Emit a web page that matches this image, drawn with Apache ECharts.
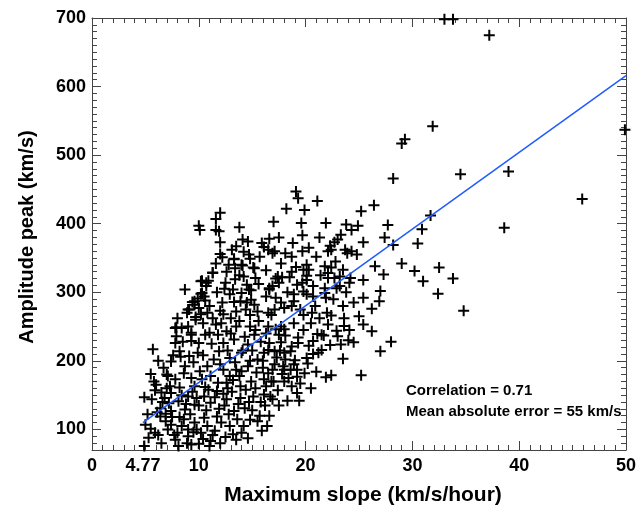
<!DOCTYPE html>
<html>
<head>
<meta charset="utf-8">
<script src="https://cdn.jsdelivr.net/npm/echarts@6/dist/echarts.min.js"></script>
<style>html,body{margin:0;padding:0;background:#fff}#c{width:639px;height:507px}</style>
</head>
<body>
<div id="c"></div>
<script>
// ---- data ----
const xTickLabels = [0, 4.77, 10, 20, 30, 40, 50];
const yTickLabels = [100, 200, 300, 400, 500, 600, 700];
const fitX = [4.77, 50];
const fitY = [110, 616];
const annotations = ['Correlation = 0.71', 'Mean absolute error = 55 km/s'];

const sparsePoints = [
[37.2,675],[31.9,542],[29.3,523],[29.0,517],[28.2,466],[34.5,472],[39.0,476],[49.9,537],[45.9,436],
[19.1,447],[19.3,437],[21.1,433],[18.2,422],[19.9,420],[26.4,427],[25.2,418],[12.0,416],[27.7,398],
[31.7,412],[30.9,392],[38.6,394],[27.4,380],[28.2,369],[30.5,371],[26.5,338],[29.0,342],[27.3,326],
[30.2,331],[32.5,336],[31.0,316],[33.8,320],[27.0,302],[32.4,298],[26.9,287],[34.8,273],[28.0,228],
[27.0,214],[33.0,698],[33.8,698]
];
const midRightPoints = [
[25.4,253],[26.2,243],[23.6,251],[24.1,245],[22.9,244],[23.0,236],[24.0,230],[24.5,227],[23.3,224],
[22.3,223],[23.5,203],[25.2,179],[22.4,179],[21.9,176],[21.0,184],[22.1,253],[21.5,238],[21.7,237],
[21.1,239],[20.7,229],[20.3,222],[21.5,216],[21.2,212],[20.7,210],[20.1,204],[20.2,196],[19.3,234],
[19.3,226],[18.7,221],[18.6,214],[18.1,237],[18.0,246],[17.7,227],[18.0,212],[18.1,202],[19.0,201],
[19.2,187],[18.6,187],[18.0,187],[17.8,181],[19.2,177],[19.5,167],[18.7,163],[18.0,170],[17.4,157],
[19.2,153],[16.9,144],[16.7,148],[16.1,151],[17.1,195],[16.9,187],[16.5,182],[16.1,173],[16.8,170],
[16.3,163],[16.0,190],[16.1,212],[16.5,216],[17.1,214],[16.6,226],[17.5,238],[17.2,246],[16.5,250],
[17.7,250],[18.9,195]
];
const upperMidPoints = [
[17.0,403],[19.6,401],[21.9,401],[23.8,399],[24.9,397],[24.3,391],[19.7,383],[23.3,384],[23.0,377],
[22.7,373],[25.4,373],[22.3,368],[22.4,362],[22.1,360],[16.6,378],[16.1,366],[17.1,360],[16.5,362],
[18.1,357],[18.7,352],[19.7,360],[21.0,352],[23.7,362],[23.9,357],[24.8,355],[24.3,360],[19.1,337],
[20.1,340],[20.3,333],[19.8,333],[21.8,338],[22.4,336],[22.8,345],[23.5,333],[22.1,328],[20.1,324],
[17.8,322],[18.5,322],[17.2,320],[22.1,321],[22.7,321],[23.2,323],[24.2,321],[24.1,314],[25.4,318],
[25.4,292],[23.2,309],[22.9,306],[21.8,306],[20.7,309],[19.7,314],[19.2,311],[17.5,314],[16.9,309],
[16.6,304],[16.3,294],[17.2,292],[18.3,300],[18.9,297],[19.8,301],[20.1,297],[20.7,294],[21.8,299],
[21.9,292],[18.9,287],[18.7,280],[18.0,277],[17.1,275],[16.5,270],[19.8,267],[20.6,270],[23.5,280],
[22.4,266],[26.2,276]
];
const upperLeftPoints = [
[11.6,407],[10.0,397],[10.1,391],[11.6,391],[11.9,389],[13.8,395],[14.1,377],[14.6,374],[12.0,373],
[13.5,367],[13.1,362],[14.2,359],[12.0,356],[12.2,351],[13.3,349],[14.8,349],[15.7,352],[13.4,335],
[14.1,339],[15.2,335],[11.3,328],[10.3,317],[10.9,317],[10.7,309],[12.5,314],[13.4,319],[14.2,323],
[14.5,311],[15.3,321],[13.2,304],[14.0,299],[14.7,304],[8.7,304],[10.2,298],[10.5,294],[9.9,291],
[9.4,286],[10.6,288],[9.1,275],[9.6,282],[10.0,277],[12.9,297],[13.3,286],[13.9,287],[14.9,289],
[15.2,282],[15.5,272],[14.5,285],[13.5,272],[12.0,273],[12.3,268],[10.8,270],[10.2,268],[9.7,264],
[14.8,267],[7.8,248],[7.9,236],[9.3,238],[9.0,275],[9.7,260],[9.6,287],[10.3,299],[10.7,314],
[11.3,329],[10.2,316],[13.3,348],[14.0,340],[15.1,336],[16.9,357],[17.4,323],[16.6,306],[17.7,285],
[16.8,267]
];
const lowerLeftPoints = [
[5.7,217],[5.5,181],[4.9,147],[5.6,144],[5.9,157],[6.5,154],[5.2,122],[5.0,107],[6.4,119],[7.0,180],
[7.8,226],[7.4,199],[8.2,214],[8.4,248],[7.9,249],[9.0,250],[9.3,241],[10.0,226],[9.1,207],[9.9,212],
[8.7,192],[7.1,178],[7.8,173],[8.2,161],[7.4,153],[6.8,146],[8.1,141],[9.0,148],[9.6,163],[10.3,173],
[11.1,178],[10.8,192],[11.4,202],[11.9,214],[11.0,241],[11.6,253],[12.6,243],[13.3,231],[12.3,226],
[13.5,250],[14.8,250],[15.2,238],[14.6,224],[14.0,212],[12.9,204],[12.3,187],[13.5,187],[14.6,192],
[15.5,202],[12.6,168],[13.9,163],[14.9,170],[11.7,156],[10.5,148],[9.6,136],[8.7,129],[7.4,127],
[6.4,131],[11.1,139],[12.6,144],[13.9,146],[15.1,148],[14.3,131],[13.3,127],[15.5,112],[12.5,89],
[11.7,119],[10.5,117],[9.6,110],[8.4,105],[7.1,100],[5.9,95],[5.3,88],[4.9,76],[6.5,80],[7.8,85],
[9.0,90],[10.2,95],[11.1,83],[9.3,78],[8.1,76],[11.0,76],[10.8,105],[12.9,105],[14.2,105],[14.8,114]
];
const densePoints = [
[6.2,92],[6.9,112],[7.5,118],[8.0,95],[8.6,115],[9.2,122],[9.8,100],[10.4,86],[11.5,98],[12.1,110],
[12.8,122],[13.6,115],[14.0,95],[7.2,138],[8.4,150],[9.4,155],[10.0,135],[10.9,158],[11.8,168],[12.4,135],
[13.1,155],[13.8,178],[14.4,158],[15.0,128],[15.8,140],[6.0,165],[6.7,190],[7.6,208],[8.5,228],[9.5,198],
[10.4,208],[11.2,225],[12.0,195],[12.7,215],[13.4,198],[14.3,235],[15.0,215],[15.8,228],[8.0,262],[8.9,270],
[10.4,255],[11.3,262],[12.2,285],[13.0,262],[13.8,258],[14.4,275],[15.6,258],[11.0,280],[11.7,300],[12.4,305],
[9.3,229],[10.6,238],[11.8,238],[12.9,178],[10.1,185],[9.3,175],[8.6,182],[7.3,163],[6.1,125],[5.5,101],
[6.6,140],[7.7,92],[8.9,80],[10.0,79],[12.0,80],[13.2,93],[14.6,87],[15.9,98],[16.6,120],[17.5,135],
[18.3,142],[16.2,135],[15.3,160],[16.0,200],[15.4,183],[14.1,215],[13.0,240],[12.1,255],[8.3,206],[6.2,200],
[5.8,170],[7.0,160],[6.9,123],[8.8,137],[9.8,146],[10.6,162],[11.5,147],[12.3,152],[13.7,137],[14.7,140],
[15.7,120],[16.4,105],[13.5,85],[11.3,92],[9.5,96],[7.4,107],[8.2,118],[9.0,100],[10.7,128],[11.9,130],
[12.7,160],[13.2,172],[14.0,185],[14.8,200],[15.3,245],[16.3,240],[17.3,205],[17.9,192],[18.4,175],[19.9,182],
[20.5,160],[19.4,142],[17.0,170],[17.6,215],[18.9,255],[19.8,245],[20.5,255],[21.3,262],[19.5,275],[20.9,280],
[22.6,290],[23.8,300],[24.5,285],[25.0,265],[22.0,270],[23.6,262],[20.1,318],[21.4,325],[18.7,330],[17.7,342],
[16.3,332],[15.6,312],[14.9,303],[13.8,325],[12.6,330],[11.6,342],[12.8,340],[14.7,355],[15.9,372],[17.5,380],
[18.8,372],[20.3,365],[21.3,380]
];

// ---- chart ----
const allPoints = [].concat(sparsePoints, midRightPoints, upperMidPoints, upperLeftPoints, lowerLeftPoints, densePoints);
const axisColor = '#444';
const font = '"Liberation Sans", Arial, Helvetica, sans-serif';
const plusPath = 'path://M4.5,0h2v4.5h4.5v2h-4.5v4.5h-2v-4.5h-4.5v-2h4.5z';

function minorAxis(pos, isX, interval) {
  return {
    type: 'value', position: pos, min: isX ? 0 : 70, max: isX ? 50 : 700, interval: interval,
    axisLine: { show: true, onZero: false, lineStyle: { color: axisColor, width: 1 } },
    axisTick: { show: true, inside: true, length: 5, lineStyle: { color: axisColor } },
    axisLabel: { show: false }, splitLine: { show: false }
  };
}
function majorAxis(pos, isX, values, labels) {
  return {
    type: 'value', position: pos, min: isX ? 0 : 70, max: isX ? 50 : 700,
    axisLine: { show: false, onZero: false },
    axisTick: { show: true, inside: true, length: 9, customValues: values, lineStyle: { color: axisColor } },
    axisLabel: { show: labels, customValues: values, color: '#000', fontFamily: font, fontWeight: 'bold', fontSize: 18, margin: isX ? 7 : 6,
      formatter: v => String(v) },
    splitLine: { show: false }
  };
}

const chart = echarts.init(document.getElementById('c'), null, { renderer: 'canvas' });
chart.setOption({
  animation: false,
  backgroundColor: '#fff',
  grid: { left: 92, right: 1, top: 18, bottom: 57, containLabel: false },
  xAxis: [
    minorAxis('bottom', true, 1),
    majorAxis('bottom', true, xTickLabels, true),
    minorAxis('top', true, 1),
    majorAxis('top', true, [0,10,20,30,40,50], false)
  ],
  yAxis: [
    minorAxis('left', false, 10),
    majorAxis('left', false, yTickLabels, true),
    minorAxis('right', false, 10),
    majorAxis('right', false, yTickLabels, false)
  ],
  graphic: [
    { type: 'text', x: 27, y: 237, rotation: Math.PI / 2,
      style: { text: 'Amplitude peak (km/s)', fill: '#000', font: 'bold 20px ' + font, align: 'center', verticalAlign: 'middle' } },
    { type: 'text', x: 363, y: 495,
      style: { text: 'Maximum slope (km/s/hour)', fill: '#000', font: 'bold 21px ' + font, align: 'center', verticalAlign: 'middle' } },
    { type: 'text', x: 406, y: 391,
      style: { text: annotations[0], fill: '#000', font: 'bold 15px ' + font, verticalAlign: 'middle' } },
    { type: 'text', x: 406, y: 412,
      style: { text: annotations[1], fill: '#000', font: 'bold 15px ' + font, verticalAlign: 'middle' } }
  ],
  series: [
    { type: 'scatter', xAxisIndex: 1, yAxisIndex: 1, data: allPoints, symbol: plusPath, symbolSize: 11,
      itemStyle: { color: '#000', opacity: 1 }, clip: true, silent: true },
    { type: 'line', xAxisIndex: 1, yAxisIndex: 1, data: fitX.map((x, i) => [x, fitY[i]]), showSymbol: false,
      lineStyle: { color: '#1f5cff', width: 1.5 }, clip: true, silent: true }
  ]
});
</script>
</body>
</html>
